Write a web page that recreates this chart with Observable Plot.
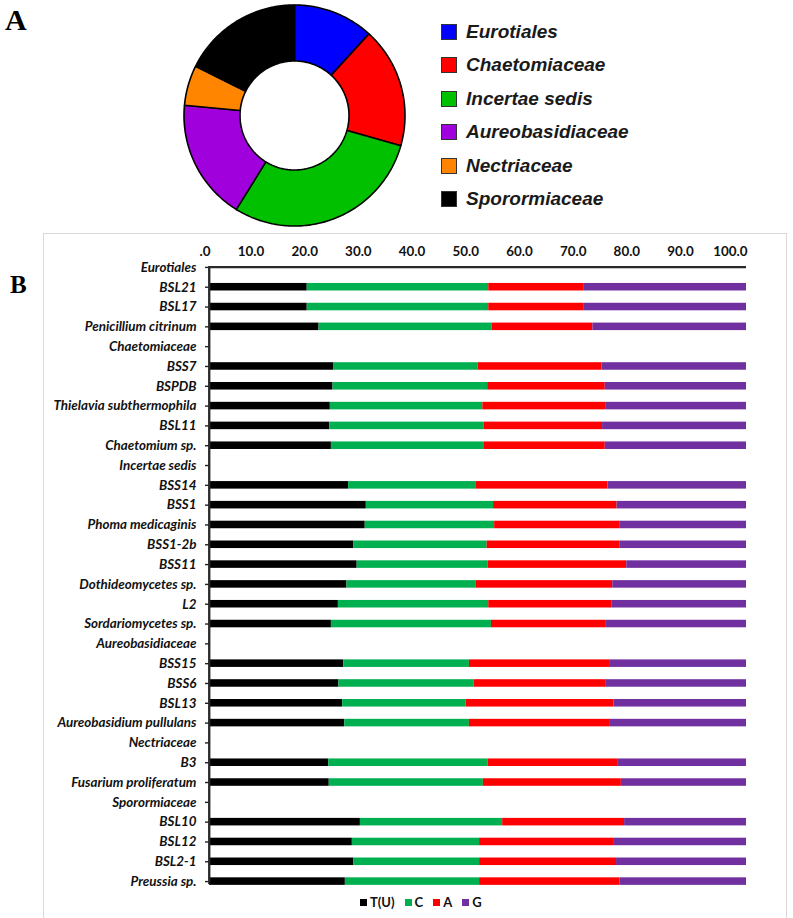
<!DOCTYPE html>
<html><head><meta charset="utf-8">
<script src="https://cdn.jsdelivr.net/npm/d3@7"></script>
<script src="https://cdn.jsdelivr.net/npm/@observablehq/plot@0.6"></script>
<style>
body{margin:0;background:#fff;}
#page{position:relative;width:793px;height:918px;overflow:hidden;background:#fff;}
.abs{position:absolute;}
.panel{font-family:"Liberation Serif",serif;font-weight:bold;line-height:1;color:#000;}
.legA{position:absolute;left:441px;height:20px;display:flex;align-items:center;font-family:"Liberation Sans",Arial,sans-serif;font-style:italic;font-weight:bold;font-size:19px;color:#1a1a1a;white-space:nowrap;}
.legA .sw{width:16px;height:16px;box-sizing:border-box;border:1.5px solid #333;margin-right:9px;}
#legB{position:absolute;left:360px;top:894px;height:16px;display:flex;align-items:center;font-family:Lato,sans-serif;font-weight:700;font-size:13px;color:#111;white-space:nowrap;}
#legB .it{display:flex;align-items:center;margin-right:10px;}
#legB .sw{width:7px;height:7px;margin-right:3px;}
#frameB{position:absolute;left:43px;top:233px;width:744px;height:690px;border:1px solid #d9d9d9;box-sizing:border-box;background:transparent;pointer-events:none;}
</style></head><body>
<div id="page">
  <div class="abs panel" style="left:5px;top:5px;font-size:30px;">A</div>
  <div id="donut" class="abs" style="left:179px;top:0px;"></div>
  <div id="legendA"></div>
  <div id="chartB" class="abs" style="left:0px;top:230px;"></div>
  <div class="abs panel" style="left:10px;top:272px;font-size:25px;">B</div>
  <div id="legB"></div>
  <div id="frameB"></div>
</div>
<script>
// ---- Panel A data ----
const families = ["Eurotiales","Chaetomiaceae","Incertae sedis","Aureobasidiaceae","Nectriaceae","Sporormiaceae"];
const familyColors = ["#0000ff","#ff0000","#00c000","#a000dc","#ff8400","#000000"];
const isolateCounts = [2,3,5,3,1,3];

// ---- Panel B data ----
const rows = ["Eurotiales","BSL21","BSL17","Penicillium citrinum","Chaetomiaceae","BSS7","BSPDB","Thielavia subthermophila","BSL11","Chaetomium sp.","Incertae sedis","BSS14","BSS1","Phoma medicaginis","BSS1-2b","BSS11","Dothideomycetes sp.","L2","Sordariomycetes sp.","Aureobasidiaceae","BSS15","BSS6","BSL13","Aureobasidium pullulans","Nectriaceae","B3","Fusarium proliferatum","Sporormiaceae","BSL10","BSL12","BSL2-1","Preussia sp."];
const bases = ["T(U)","C","A","G"];
const baseColors = ["#000000","#00b050","#ff0000","#7030a0"];
const T = [null,18.2,18.2,20.4,null,23.1,23.0,22.5,22.4,22.7,null,25.9,29.2,29.0,26.9,27.5,25.6,24.0,22.7,null,25.0,24.1,24.8,25.2,null,22.2,22.3,null,28.1,26.6,26.9,25.3];
const C = [null,33.8,33.8,32.2,null,26.9,28.8,28.4,28.7,28.5,null,23.8,23.7,24.1,24.8,24.4,24.1,28.0,29.8,null,23.4,25.2,23.0,23.2,null,29.7,28.7,null,26.5,23.7,23.4,25.0];
const A = [null,17.8,17.8,18.8,null,23.1,21.9,23.0,22.1,22.5,null,24.5,23.0,23.4,24.8,25.8,25.4,22.9,21.4,null,26.1,24.6,27.5,26.1,null,24.1,25.7,null,22.7,25.1,25.5,26.1];
const G = [null,30.2,30.2,28.6,null,26.9,26.3,26.1,26.8,26.3,null,25.8,24.1,23.5,23.5,22.3,24.9,25.1,26.1,null,25.5,26.1,24.7,25.5,null,24.0,23.3,null,22.7,24.6,24.2,23.6];
const xTicks = [0,10,20,30,40,50,60,70,80,90,100];

// ---- Donut ----
const Rout = 110.5, Rin = 54.5;
const total = d3.sum(isolateCounts);
let acc = 0;
const slices = families.map((f, i) => {
  const a0 = acc / total * 2 * Math.PI;
  acc += isolateCounts[i];
  const a1 = acc / total * 2 * Math.PI;
  const n = Math.max(2, Math.ceil((a1 - a0) / (Math.PI / 180)));
  const pts = [];
  for (let k = 0; k <= n; k++) { const a = a0 + (a1 - a0) * k / n; pts.push({x: Rout * Math.sin(a), y: Rout * Math.cos(a)}); }
  for (let k = n; k >= 0; k--) { const a = a0 + (a1 - a0) * k / n; pts.push({x: Rin * Math.sin(a), y: Rin * Math.cos(a)}); }
  pts.push(pts[0]);
  return {family: f, color: familyColors[i], pts};
});
const donut = Plot.plot({
  width: 230, height: 230, margin: 0,
  x: {domain: [-115, 115], axis: null},
  y: {domain: [-115, 115], axis: null},
  marks: slices.map(s => Plot.line(s.pts, {x: "x", y: "y", fill: s.color, stroke: "#000", strokeWidth: 1.6, strokeLinejoin: "miter"}))
});
document.getElementById("donut").appendChild(donut);

// Legend A
const legA = document.getElementById("legendA");
families.forEach((f, i) => {
  const d = document.createElement("div");
  d.className = "legA";
  d.style.top = (31.7 + i * 33.5 - 10) + "px";
  d.innerHTML = `<div class="sw" style="background:${familyColors[i]}"></div><span>${f}</span>`;
  legA.appendChild(d);
});

// ---- Panel B chart ----
const series = [T, C, A, G];
const long = [];
rows.forEach((r, i) => {
  if (T[i] == null) return;
  series.forEach((s, j) => long.push({row: r, base: bases[j], value: s[i]}));
});
const chartB = Plot.plot({
  width: 793, height: 665,
  marginLeft: 209, marginRight: 47, marginTop: 27, marginBottom: 4,
  x: {domain: [0, 100], axis: null},
  y: {domain: rows, paddingInner: 0.62, paddingOuter: 0.31, round: false, axis: null},
  color: {domain: bases, range: baseColors},
  style: {fontFamily: "Lato, sans-serif", fontSize: "13.4px", fontWeight: 700, color: "#111"},
  marks: [
    Plot.barX(long, {x: "value", y: "row", fill: "base"}),
    Plot.ruleY([rows[0]], {x1: 0, x2: 100, stroke: "#2a2a2a", strokeWidth: 1.8}),
    Plot.line([{x: 0, y: rows[0]}, {x: 0, y: rows[rows.length - 1]}], {x: "x", y: "y", stroke: "#2a2a2a", strokeWidth: 1.8}),
    Plot.axisY({anchor: "left", tickSize: 4, tickPadding: 9, fontStyle: "italic", stroke: "#222", strokeWidth: 1.4, label: null}),
    Plot.axisX({anchor: "top", ticks: xTicks, tickSize: 0, tickPadding: 2, textAnchor: "end", dx: 1, label: null,
      tickFormat: d => d === 0 ? ".0" : d.toFixed(1)})
  ]
});
document.getElementById("chartB").appendChild(chartB);

// Axis lines again, positioned from the chart's own scales
try {
  const sx = chartB.scale("x"), sy = chartB.scale("y");
  const fx = sx.apply ? (v => sx.apply(v)) : d3.scaleLinear(sx.domain, sx.range);
  const band = sy.apply ? (v => sy.apply(v)) : d3.scaleBand(sy.domain, sy.range).paddingInner(sy.paddingInner).paddingOuter(sy.paddingOuter);
  const bwd = sy.bandwidth || 0;
  const yTop = band(rows[0]) + bwd / 2;
  const yBot = band(rows[rows.length - 1]) + bwd / 2 + 3;
  const g = d3.select(chartB).append("g").attr("stroke", "#2a2a2a").attr("stroke-width", 1.8);
  g.append("line").attr("x1", fx(0)).attr("x2", fx(100)).attr("y1", yTop).attr("y2", yTop);
  g.append("line").attr("x1", fx(0)).attr("x2", fx(0)).attr("y1", yTop - 0.9).attr("y2", yBot);
} catch (e) {}

// Legend B
const legB = document.getElementById("legB");
bases.forEach((b, i) => {
  const d = document.createElement("div");
  d.className = "it";
  d.innerHTML = `<div class="sw" style="background:${baseColors[i]}"></div><span>${b}</span>`;
  legB.appendChild(d);
});
</script>
</body></html>
